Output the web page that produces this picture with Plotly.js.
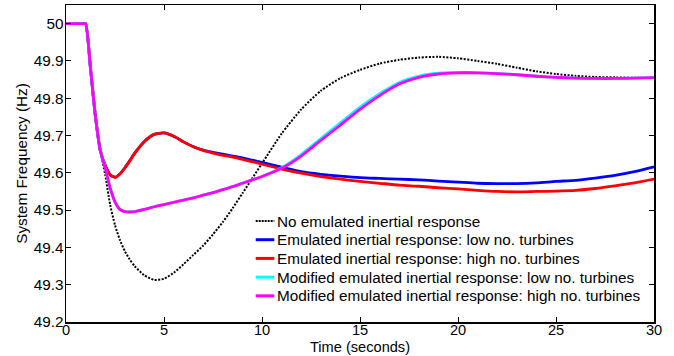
<!DOCTYPE html>
<html>
<head>
<meta charset="utf-8">
<script src="https://cdn.plot.ly/plotly-3.0.1.min.js"></script>
<style>html,body{margin:0;padding:0;background:#fff;}#chart{width:674px;height:356px;}</style>
</head>
<body>
<div id="chart"></div>
<script>
// Time (seconds)
const time = [0, 0.9, 1, 1.25, 1.5, 1.75, 2, 2.25, 2.5, 2.75, 3, 3.25, 3.5, 4, 4.5, 5, 5.5, 6, 6.5, 7, 7.5, 8, 8.5, 9, 9.5, 10, 11, 12, 13, 14, 15, 16, 17, 18, 19, 20, 21, 22, 23, 24, 25, 26, 27, 28, 29, 30];

// No emulated inertial response
const noEmulated = [50, 50, 50, 49.88, 49.752, 49.66, 49.595, 49.515, 49.46, 49.42, 49.39, 49.368, 49.35, 49.325, 49.313, 49.316, 49.332, 49.355, 49.38, 49.405, 49.435, 49.468, 49.505, 49.545, 49.585, 49.625, 49.705, 49.77, 49.82, 49.854, 49.876, 49.893, 49.903, 49.909, 49.911, 49.907, 49.9, 49.892, 49.882, 49.872, 49.865, 49.86, 49.857, 49.856, 49.855, 49.855];

// Emulated inertial response: low no. turbines
const emulatedLow = [50, 50, 50, 49.88, 49.752, 49.66, 49.62, 49.595, 49.588, 49.597, 49.613, 49.632, 49.652, 49.684, 49.703, 49.707, 49.698, 49.683, 49.67, 49.661, 49.655, 49.65, 49.645, 49.64, 49.634, 49.628, 49.615, 49.603, 49.596, 49.591, 49.587, 49.585, 49.583, 49.581, 49.578, 49.575, 49.572, 49.571, 49.571, 49.573, 49.577, 49.58, 49.586, 49.593, 49.603, 49.616];

// Emulated inertial response: high no. turbines
const emulatedHigh = [50, 50, 50, 49.88, 49.752, 49.66, 49.62, 49.595, 49.588, 49.597, 49.613, 49.632, 49.652, 49.684, 49.703, 49.707, 49.698, 49.683, 49.67, 49.66, 49.653, 49.647, 49.642, 49.636, 49.63, 49.623, 49.61, 49.599, 49.59, 49.583, 49.577, 49.572, 49.567, 49.564, 49.56, 49.557, 49.553, 49.55, 49.549, 49.55, 49.551, 49.553, 49.558, 49.565, 49.573, 49.583];

// Modified emulated inertial response: low no. turbines
const modifiedLow = [50, 50, 50, 49.88, 49.752, 49.66, 49.613, 49.56, 49.522, 49.502, 49.496, 49.495, 49.496, 49.502, 49.509, 49.515, 49.521, 49.527, 49.533, 49.54, 49.547, 49.555, 49.563, 49.572, 49.581, 49.59, 49.614, 49.649, 49.692, 49.734, 49.776, 49.812, 49.842, 49.859, 49.867, 49.869, 49.868, 49.866, 49.863, 49.859, 49.856, 49.854, 49.853, 49.853, 49.854, 49.855];

// Modified emulated inertial response: high no. turbines
const modifiedHigh = [50, 50, 50, 49.88, 49.752, 49.66, 49.613, 49.56, 49.522, 49.502, 49.496, 49.495, 49.496, 49.502, 49.509, 49.515, 49.521, 49.527, 49.533, 49.54, 49.547, 49.555, 49.563, 49.572, 49.581, 49.59, 49.612, 49.645, 49.687, 49.728, 49.77, 49.807, 49.838, 49.856, 49.865, 49.868, 49.868, 49.866, 49.863, 49.859, 49.856, 49.854, 49.853, 49.853, 49.854, 49.855];

const names = [
  'No emulated inertial response',
  'Emulated inertial response: low no. turbines',
  'Emulated inertial response: high no. turbines',
  'Modified emulated inertial response: low no. turbines',
  'Modified emulated inertial response: high no. turbines'
];
const xTicks = [0, 5, 10, 15, 20, 25, 30];
const yTicks = [49.2, 49.3, 49.4, 49.5, 49.6, 49.7, 49.8, 49.9, 50];

const series = [noEmulated, emulatedLow, emulatedHigh, modifiedLow, modifiedHigh];
const colors = ['#000000', '#0000ff', '#ff0000', '#00ffff', '#ff00ff'];
const widths = [2, 2.8, 2.8, 2.8, 2.8];
const dashes = ['2px,1.5px', 'solid', 'solid', 'solid', 'solid'];

const traces = series.map((y, i) => ({
  x: time, y: y, name: names[i], type: 'scatter', mode: 'lines', showlegend: false,
  line: {color: colors[i], width: widths[i], dash: dashes[i], shape: 'spline', smoothing: 0.6}
}));

const FF = 'Liberation Sans, Arial, sans-serif';
const FS = 15.3;

// Legend drawn inside the plot (paper coordinates)
const legX0 = 0.3226, legX1 = 0.3543, legTextX = 0.356;
const legY0 = 0.3186, legStep = 0.059;
const shapes = [];
const annotations = [];
names.forEach((n, i) => {
  const yy = legY0 - i * legStep;
  shapes.push({type: 'line', xref: 'paper', yref: 'paper', x0: legX0, x1: legX1, y0: yy, y1: yy,
    line: {color: colors[i], width: i === 0 ? 2 : 3, dash: i === 0 ? '2px,1px' : 'solid'}});
  annotations.push({xref: 'paper', yref: 'paper', x: legTextX, y: yy, xanchor: 'left', yanchor: 'middle',
    text: n, showarrow: false, font: {family: FF, size: FS, color: '#000'}});
});
// x-axis title placed just under the tick labels, flush with the bottom edge
annotations.push({xref: 'paper', yref: 'paper', x: 0.5, y: 0, yshift: -34, xanchor: 'center', yanchor: 'bottom',
  text: 'Time (seconds)', showarrow: false, borderpad: 0, font: {family: FF, size: 14.6, color: '#000'}});

const layout = {
  width: 674, height: 356,
  margin: {l: 66, r: 20, t: 5, b: 34},
  paper_bgcolor: '#fff', plot_bgcolor: '#fff',
  font: {family: FF, size: FS, color: '#000'},
  showlegend: false,
  shapes: shapes,
  annotations: annotations,
  xaxis: {
    range: [0, 30], tickvals: xTicks, ticktext: xTicks.map(String),
    ticks: 'inside', ticklen: 5, tickcolor: '#000', showline: true, linecolor: '#000', linewidth: 1.5,
    mirror: 'ticks', showgrid: false, zeroline: false, automargin: false, ticklabelstandoff: -6,
    tickfont: {family: FF, size: 14.6, color: '#000'}
  },
  yaxis: {
    range: [49.2, 50.05], tickvals: yTicks, ticktext: yTicks.map(v => String(Math.round(v * 10) / 10)),
    ticks: 'inside', ticklen: 5, tickcolor: '#000', showline: true, linecolor: '#000', linewidth: 1.5,
    mirror: 'ticks', showgrid: false, zeroline: false, automargin: false, ticklabelstandoff: -2,
    title: {text: 'System Frequency (Hz)', font: {family: FF, size: FS, color: '#000'}, standoff: 2},
    tickfont: {family: FF, size: FS, color: '#000'}
  }
};
Plotly.newPlot('chart', traces, layout, {displayModeBar: false, staticPlot: true});
</script>
</body>
</html>
